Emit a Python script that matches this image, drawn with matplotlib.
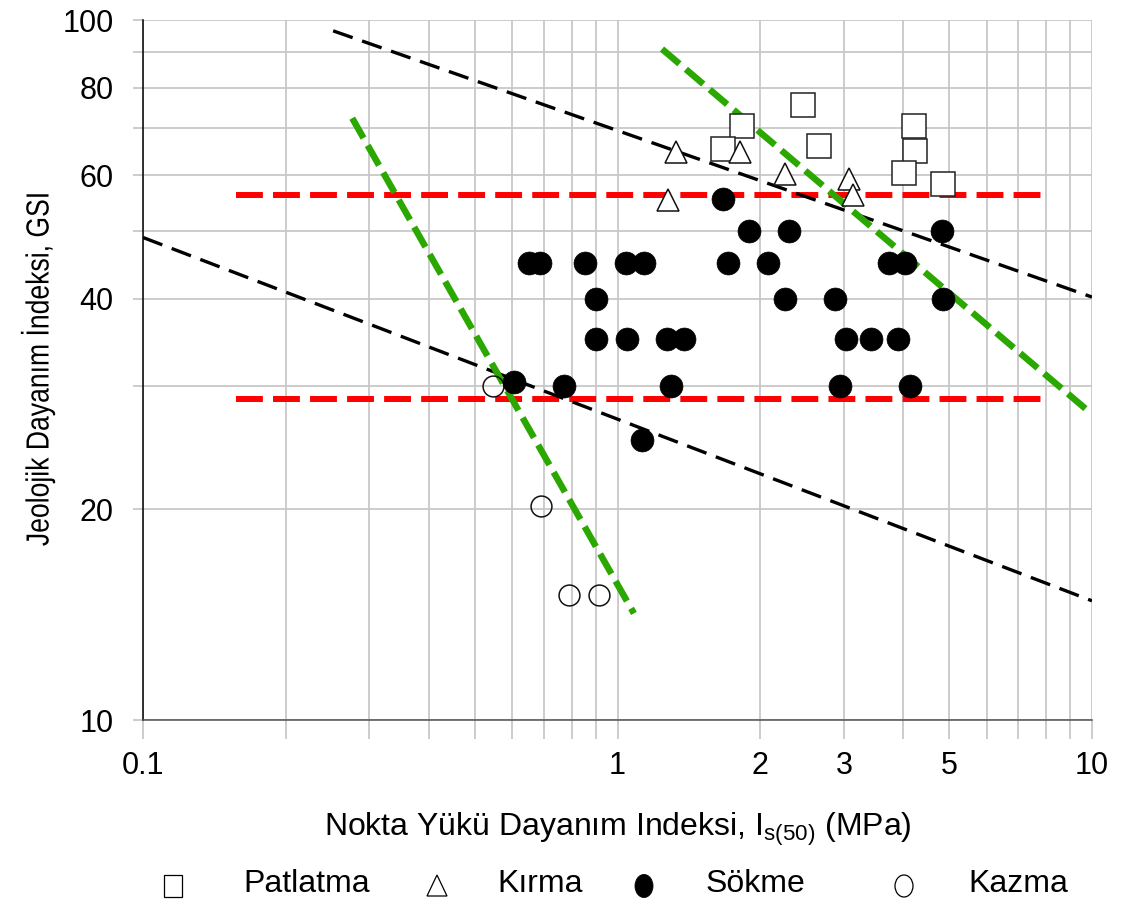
import numpy as np
import matplotlib.pyplot as plt
from matplotlib.textpath import TextPath
from matplotlib.patches import PathPatch, Rectangle, Ellipse, Polygon
from matplotlib.transforms import Affine2D, IdentityTransform
from matplotlib.font_manager import FontProperties

W, H = 1127, 908
DPI = 100

# ── Data: point load index Is(50) (MPa) vs GSI ───────────────────────────────
patlatma_is = [2.46, 1.83, 1.67, 2.66, 4.22, 4.24, 4.02, 4.86]
patlatma_gsi = [75.6, 70.6, 65.4, 66.1, 70.6, 65.0, 60.4, 58.4]

kirma_is = [1.33, 1.81, 1.28, 2.25, 3.08, 3.13]
kirma_gsi = [64.7, 64.7, 55.3, 60.3, 59.2, 56.2]

sokme_is = [1.67, 1.89, 2.30, 4.82,
            0.652, 0.687, 0.853, 1.041, 1.139, 1.71, 2.08, 3.74, 4.04,
            0.90, 2.25, 2.87, 4.85,
            0.90, 1.049, 1.27, 1.383, 3.03, 3.42, 3.91,
            0.606, 0.772, 1.297, 2.94, 4.14,
            1.125]
sokme_gsi = [55.5, 50, 50, 50,
             45, 45, 45, 45, 45, 45, 45, 45, 45,
             40, 40, 40, 40,
             35, 35, 35, 35, 35, 35, 35,
             30.4, 30, 30, 30, 30,
             25.1]

kazma_is = [0.547, 0.689, 0.79, 0.913]
kazma_gsi = [30, 20.2, 15.1, 15.1]

# boundary lines (start/end points)
red_is = [0.157, 7.93]
red_upper_gsi = [56.3, 56.3]
red_lower_gsi = [28.7, 28.7]

black_upper_is = [0.2516, 10]
black_upper_gsi = [96.5, 40.2]
black_lower_is = [0.1, 10]
black_lower_gsi = [48.9, 14.8]

green_left_is = [0.276, 1.083]
green_left_gsi = [72.4, 14.2]
green_right_is = [1.241, 9.90]
green_right_gsi = [90.9, 27.5]

x_ticks = [0.1, 0.2, 0.3, 0.4, 0.5, 0.6, 0.7, 0.8, 0.9,
           1, 2, 3, 4, 5, 6, 7, 8, 9, 10]
x_labels = ['0.1', '', '', '', '', '', '', '', '',
            '1', '2', '3', '', '5', '', '', '', '', '10']
y_ticks = [10, 20, 30, 40, 50, 60, 70, 80, 90, 100]
y_labels = ['10', '20', '', '40', '', '60', '', '80', '', '100']

legend_names = ['Patlatma', 'Kırma', 'Sökme', 'Kazma']

plt.rcParams['font.family'] = ['Liberation Sans', 'DejaVu Sans']
plt.rcParams['mathtext.default'] = 'regular'

GRID = '#c8c8c8'


def narrow_text(fig, x, y, s, size, sx, rotation=0):
    """Text drawn as a filled path, centred on pixel (x, y) counted from the
    top-left corner, squeezed along its baseline by sx."""
    tp = TextPath((0, 0), s, size=size, prop=FontProperties(family='Liberation Sans'))
    bb = tp.get_extents()
    tr = (Affine2D()
          .translate(-(bb.x0 + bb.x1) / 2, -(bb.y0 + bb.y1) / 2)
          .scale(sx, 1)
          .rotate_deg(rotation)
          .translate(x, H - y))
    fig.add_artist(PathPatch(tr.transform_path(tp), fc='black', ec='none',
                             transform=IdentityTransform()))


fig = plt.figure(figsize=(W / DPI, H / DPI), dpi=DPI)
ax = fig.add_axes([143 / W, 1 - 720 / H, (1092 - 143) / W, (720 - 20) / H])

ax.set_xscale('log')
ax.set_yscale('log')
ax.set_xlim(0.1, 10)
ax.set_ylim(10, 100)

ax.set_xticks(x_ticks, labels=x_labels)
ax.set_yticks(y_ticks, labels=y_labels)
ax.minorticks_off()
ax.grid(True, which='major', color=GRID, lw=1.3, zorder=0)
ax.set_axisbelow(True)

ax.tick_params(axis='x', direction='out', length=14, width=1.3, color=GRID,
               pad=8, labelsize=22)
ax.tick_params(axis='y', direction='out', length=7, width=1.3, color=GRID,
               pad=14, labelsize=22)
ax.xaxis.get_major_ticks()[0].tick1line.set_color('black')

for side in ('top', 'right'):
    ax.spines[side].set_visible(False)
ax.spines['left'].set_color('black')
ax.spines['left'].set_linewidth(1.1)
ax.spines['bottom'].set_color('#505050')
ax.spines['bottom'].set_linewidth(1.1)

# ── Boundary lines ───────────────────────────────────────────────────────────
red_kw = dict(color='#ff0000', lw=4.3, ls=(0, (4.5, 1.7)), dash_capstyle='butt', zorder=2)
ax.plot(red_is, red_upper_gsi, **red_kw)
ax.plot(red_is, red_lower_gsi, **red_kw)

blk_kw = dict(color='black', lw=2.4, ls=(0, (6.2, 3.0)), dash_capstyle='butt', zorder=2)
ax.plot(black_upper_is, black_upper_gsi, **blk_kw)
ax.plot(black_lower_is, black_lower_gsi, **blk_kw)

grn_kw = dict(color='#2aa800', lw=4.7, ls=(0, (3.5, 1.3)), dash_capstyle='butt', zorder=2)
ax.plot(green_left_is, green_left_gsi, **grn_kw)
ax.plot(green_right_is, green_right_gsi, **grn_kw)

# ── Scatter groups ───────────────────────────────────────────────────────────
ax.plot(patlatma_is, patlatma_gsi, 's', ms=17, mfc='white', mec='#222222',
        mew=1.1, zorder=3)
ax.plot(kirma_is, kirma_gsi, '^', ms=16, mfc='white', mec='#111111',
        mew=1.1, zorder=3)
ax.plot(sokme_is, sokme_gsi, 'o', ms=16.5, mfc='black', mec='black',
        mew=0.5, zorder=4)
ax.plot(kazma_is, kazma_gsi, 'o', ms=15, mfc='none', mec='#111111',
        mew=1.1, zorder=3)

ax.set_xlabel('Nokta Yükü Dayanım Indeksi, $\\mathregular{I_{s(50)}}$ (MPa)',
              fontsize=23, labelpad=22)

# y label in a condensed face
narrow_text(fig, 38, 370, 'Jeolojik Dayanım İndeksi, GSI', size=32, sx=0.83,
            rotation=90)

# ── Legend row beneath the x label ───────────────────────────────────────────
lax = fig.add_axes([0, 0, 1, 1])
lax.set_xlim(0, W)
lax.set_ylim(H, 0)
lax.axis('off')
ly = 886
lax.add_patch(Rectangle((164, ly - 11), 18, 22, fc='white', ec='black', lw=0.9))
lax.add_patch(Polygon([(437, ly - 11), (427, ly + 10), (447, ly + 10)],
                      closed=True, fc='white', ec='black', lw=0.9))
lax.add_patch(Ellipse((644, ly), 18, 23, fc='black', ec='black', lw=0.6))
lax.add_patch(Ellipse((904, ly), 18, 22, fc='white', ec='black', lw=0.9))
text_x = [243, 497, 706, 968]
for tx, name in zip(text_x, legend_names):
    lax.text(tx, ly - 2, name, fontsize=23, va='center', ha='left')

fig.savefig('out.png', dpi=DPI)
